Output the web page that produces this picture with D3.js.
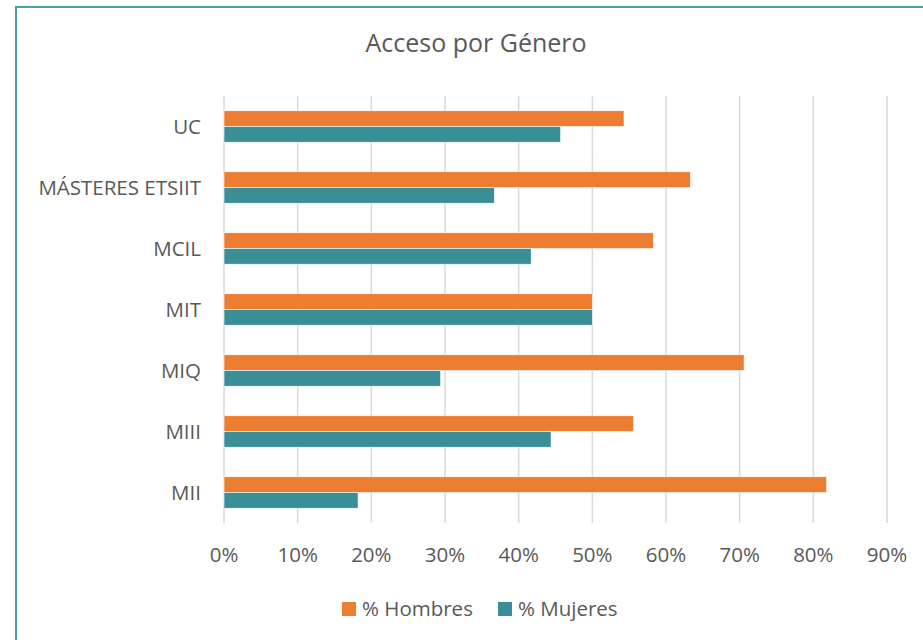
<!DOCTYPE html>
<html>
<head>
<meta charset="utf-8">
<script src="https://cdn.jsdelivr.net/npm/d3@7"></script>
<style>
  body { margin: 0; background: #fff; }
  text { font-family: "Open Sans", sans-serif; fill: #595959; }
</style>
</head>
<body>
<div class="main"></div>
<script>
// Categories top to bottom, as drawn
const categories = ["UC", "MÁSTERES ETSIIT", "MCIL", "MIT", "MIQ", "MIII", "MII"]
const hombres = [54.3, 63.3, 58.3, 50.0, 70.6, 55.6, 81.8]
const mujeres = [45.7, 36.7, 41.7, 50.0, 29.4, 44.4, 18.2]
const seriesNames = ["% Hombres", "% Mujeres"]
const tickValues = [0, 10, 20, 30, 40, 50, 60, 70, 80, 90]

const width = 923
const height = 640
const margin = ({top: 96, right: 36, bottom: 117, left: 224})
const colors = ["#ED7D31", "#3A8E96"]
const labelSize = 20.5

const svg = d3.select(".main")
  .append("svg")
  .attr("width", width)
  .attr("height", height)

// frame (only top and left edges visible in the picture)
svg.append("rect")
  .attr("x", 16)
  .attr("y", 7)
  .attr("width", width + 20)
  .attr("height", height + 20)
  .attr("fill", "none")
  .attr("stroke", "#4E9EA6")
  .attr("stroke-width", 2)

const xScale = d3.scaleLinear()
  .domain([0, 90])
  .range([margin.left, 887])

const yScale = d3.scaleBand()
  .domain(categories)
  .range([margin.top, height - margin.bottom])
  .paddingInner(0.485)
  .paddingOuter(0.2425)

const inner = d3.scaleBand()
  .domain(seriesNames)
  .range([0, yScale.bandwidth()])

// gridlines
svg.append("g")
  .selectAll("line")
  .data(tickValues)
  .join("line")
    .attr("x1", d => xScale(d))
    .attr("x2", d => xScale(d))
    .attr("y1", margin.top)
    .attr("y2", height - margin.bottom)
    .attr("stroke", "#D9D9D9")
    .attr("stroke-width", 1.5)

// x tick labels
svg.append("g")
  .selectAll("text")
  .data(tickValues)
  .join("text")
    .attr("x", d => xScale(d))
    .attr("y", 555)
    .attr("dy", "0.35em")
    .attr("text-anchor", "middle")
    .attr("font-size", labelSize)
    .text(d => d + "%")

// category labels
svg.append("g")
  .selectAll("text")
  .data(categories)
  .join("text")
    .attr("x", 201)
    .attr("y", d => yScale(d) + yScale.bandwidth() / 2)
    .attr("dy", "0.35em")
    .attr("text-anchor", "end")
    .attr("font-size", labelSize)
    .text(d => d)

// bars
const rows = categories.map((c, i) => ({cat: c, values: [hombres[i], mujeres[i]]}))

const g = svg.append("g")
  .selectAll("g")
  .data(rows)
  .join("g")
    .attr("transform", d => `translate(0, ${yScale(d.cat)})`)

g.selectAll("rect")
  .data(d => d.values.map((v, j) => ({name: seriesNames[j], value: v, j: j})))
  .join("rect")
    .attr("x", xScale(0))
    .attr("y", d => inner(d.name))
    .attr("width", d => xScale(d.value) - xScale(0))
    .attr("height", inner.bandwidth())
    .attr("fill", d => colors[d.j])
    .attr("stroke", "#fff")
    .attr("stroke-width", 0.6)

// title
svg.append("text")
  .attr("x", 476)
  .attr("y", 43)
  .attr("dy", "0.35em")
  .attr("text-anchor", "middle")
  .attr("font-size", 25)
  .text("Acceso por Género")

// legend
const legendX = [342, 498]
const legend = svg.append("g")
  .selectAll("g")
  .data(seriesNames)
  .join("g")
    .attr("transform", (d, i) => `translate(${legendX[i]}, 609)`)

legend.append("rect")
  .attr("x", 0)
  .attr("y", -7)
  .attr("width", 14)
  .attr("height", 14)
  .attr("fill", (d, i) => colors[i])

legend.append("text")
  .attr("x", 20)
  .attr("y", 0)
  .attr("dy", "0.35em")
  .attr("font-size", labelSize)
  .text(d => d)
</script>
</body>
</html>
